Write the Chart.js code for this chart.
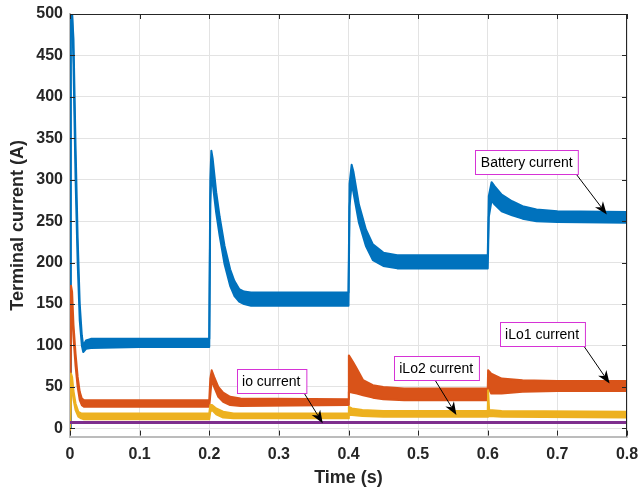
<!DOCTYPE html>
<html>
<head>
<meta charset="utf-8">
<script src="https://cdn.jsdelivr.net/npm/chart.js@4.4.0/dist/chart.umd.min.js"></script>
<style>
  html, body { margin: 0; padding: 0; background: #fff; }
</style>
</head>
<body>
<canvas id="grafica" width="641" height="491"></canvas>
<script>
// axis ticks
const xTicks = [0, 0.1, 0.2, 0.3, 0.4, 0.5, 0.6, 0.7, 0.8];
const yTicks = [0, 50, 100, 150, 200, 250, 300, 350, 400, 450, 500];

// battery current (ripple band: upper and lower edge)
const tBat = [0, 0.001, 0.003, 0.005, 0.008, 0.011, 0.014, 0.017, 0.019, 0.023, 0.03, 0.1, 0.2, 0.2015, 0.203, 0.205, 0.21, 0.215, 0.222, 0.23, 0.236, 0.243, 0.25, 0.26, 0.3, 0.4, 0.4015, 0.4045, 0.407, 0.415, 0.425, 0.435, 0.45, 0.47, 0.5, 0.6, 0.6015, 0.6055, 0.61, 0.62, 0.635, 0.65, 0.67, 0.7, 0.8];
const batHigh = [0, 500, 500, 470, 340, 230, 150, 112, 100, 106, 108, 108, 108, 300, 335, 325, 285, 255, 220, 192, 178, 168, 165, 164, 164, 164, 295, 318, 310, 270, 240, 222, 212, 209, 209, 209, 280, 297, 292, 282, 274, 268, 264, 262, 261];
const batLow = [0, 480, 500, 440, 300, 200, 130, 100, 92, 96, 97, 98, 98, 270, 305, 295, 260, 232, 198, 172, 160, 153, 150, 148, 148, 148, 268, 295, 285, 248, 220, 203, 196, 193, 193, 193, 255, 275, 270, 262, 257, 253, 250, 249, 248];

// iLo1 current
const tLo1 = [0, 0.0015, 0.003, 0.005, 0.008, 0.011, 0.014, 0.017, 0.02, 0.2, 0.2015, 0.2035, 0.207, 0.213, 0.22, 0.23, 0.245, 0.4, 0.4005, 0.4065, 0.412, 0.421, 0.435, 0.45, 0.48, 0.6, 0.6005, 0.605, 0.62, 0.65, 0.7, 0.8];
const lo1High = [0, 172, 165, 125, 90, 62, 44, 36, 34, 34, 60, 70, 62, 50, 43, 38, 36, 35, 88, 80, 72, 58, 52, 50, 48, 48, 70, 66, 60, 58, 57, 57];
const lo1Low = [0, 150, 140, 110, 75, 50, 34, 28, 26, 26, 40, 58, 50, 38, 32, 28, 27, 28, 44, 43, 42, 40, 37, 35, 34, 34, 50, 42, 42, 44, 45, 45];

// iLo2 current
const tLo2 = [0, 0.0015, 0.003, 0.005, 0.008, 0.012, 0.016, 0.02, 0.2, 0.2015, 0.204, 0.21, 0.22, 0.235, 0.4, 0.4005, 0.405, 0.42, 0.45, 0.6, 0.6005, 0.602, 0.62, 0.8];
const lo2High = [-6, 66, 62, 45, 30, 20, 18, 18, 18, 28, 28, 24, 20, 18, 18, 26, 24, 22, 21, 21, 46, 22, 21, 20];
const lo2Low = [-6, 50, 48, 35, 22, 14, 12, 11, 11, 20, 22, 17, 13, 12, 12, 16, 16, 15, 14, 14, 14, 15, 14, 13];

// io current
const tIo = [0, 0.8];
const ioVals = [7, 7];

// text arrows (data coordinates)
const noteText = ['Battery current', 'iLo1 current', 'iLo2 current', 'io current'];
const noteBoxX = [0.656, 0.678, 0.526, 0.289];
const noteBoxY = [321, 114, 73, 57];
const arrowFromX = [0.725, 0.735, 0.523, 0.333];
const arrowFromY = [309, 103, 60, 47];
const arrowToX = [0.771, 0.775, 0.555, 0.363];
const arrowToY = [258, 54, 16, 6];

const FONT = "'Liberation Sans', Arial, Helvetica, sans-serif";

function pts(ts, vs) {
    return ts.map((t, i) => ({ x: t, y: vs[i] }));
}

function band(ts, hi, lo, color, order) {
    const common = { borderColor: color, backgroundColor: color, borderWidth: 2, borderJoinStyle: 'round', order: order };
    return [
        { ...common, data: pts(ts, hi), fill: false },
        { ...common, data: pts(ts, lo), fill: '-1' }
    ];
}

const datasets = [
    ...band(tBat, batHigh, batLow, '#0072BD', 4),
    ...band(tLo1, lo1High, lo1Low, '#D95319', 3),
    ...band(tLo2, lo2High, lo2Low, '#EDB120', 2),
    { data: pts(tIo, ioVals), borderColor: '#7E2F8E', borderWidth: 3, fill: false, order: 1 }
];

// box ticks on all four sides, dark top/right lines
const axisBox = {
    id: 'axisBox',
    afterDatasetsDraw(chart) {
        const { ctx, chartArea: a, scales: { x, y } } = chart;
        ctx.save();
        ctx.strokeStyle = '#262626';
        ctx.lineWidth = 1;
        ctx.beginPath();
        ctx.moveTo(a.left, a.top + 0.5); ctx.lineTo(a.right, a.top + 0.5);
        ctx.moveTo(a.right - 0.5, a.top); ctx.lineTo(a.right - 0.5, a.bottom);
        xTicks.forEach(v => {
            const px = Math.round(x.getPixelForValue(v)) + 0.5;
            ctx.moveTo(px, a.bottom - 1); ctx.lineTo(px, a.bottom - 6);
            ctx.moveTo(px, a.top); ctx.lineTo(px, a.top + 5);
        });
        yTicks.forEach(v => {
            const py = Math.round(y.getPixelForValue(v)) + 0.5;
            ctx.moveTo(a.left, py); ctx.lineTo(a.left + 5, py);
            ctx.moveTo(a.right, py); ctx.lineTo(a.right - 5, py);
        });
        ctx.stroke();
        ctx.restore();
    }
};

// text boxes with arrows
const notes = {
    id: 'notes',
    afterDraw(chart) {
        const { ctx, scales: { x, y } } = chart;
        ctx.save();
        ctx.font = '14px ' + FONT;
        ctx.textAlign = 'center';
        ctx.textBaseline = 'middle';
        noteText.forEach((txt, i) => {
            // arrow
            const x0 = x.getPixelForValue(arrowFromX[i]), y0 = y.getPixelForValue(arrowFromY[i]);
            const x1 = x.getPixelForValue(arrowToX[i]), y1 = y.getPixelForValue(arrowToY[i]);
            const ang = Math.atan2(y1 - y0, x1 - x0);
            const len = 13, half = 5;
            const bx = x1 - len * Math.cos(ang), by = y1 - len * Math.sin(ang);
            const nx = x1 - len * 0.7 * Math.cos(ang), ny = y1 - len * 0.7 * Math.sin(ang);
            ctx.strokeStyle = '#000';
            ctx.lineWidth = 1;
            ctx.beginPath();
            ctx.moveTo(x0, y0);
            ctx.lineTo(nx, ny);
            ctx.stroke();
            ctx.fillStyle = '#000';
            ctx.beginPath();
            ctx.moveTo(x1, y1);
            ctx.lineTo(bx + half * Math.sin(ang), by - half * Math.cos(ang));
            ctx.lineTo(nx, ny);
            ctx.lineTo(bx - half * Math.sin(ang), by + half * Math.cos(ang));
            ctx.closePath();
            ctx.fill();

            // box
            const cx = x.getPixelForValue(noteBoxX[i]), cy = y.getPixelForValue(noteBoxY[i]);
            const w = ctx.measureText(txt).width + 11, h = 24;
            const lx = Math.round(cx - w / 2) + 0.5, ty = Math.round(cy - h / 2) + 0.5;
            ctx.fillStyle = '#fff';
            ctx.fillRect(lx, ty, w, h);
            ctx.strokeStyle = '#D633D6';
            ctx.strokeRect(lx, ty, w, h);
            ctx.fillStyle = '#000';
            ctx.fillText(txt, cx, cy + 1);
        });
        ctx.restore();
    }
};

const ctx1 = document.getElementById('grafica').getContext('2d');

new Chart(ctx1, {
    type: 'line',
    data: { datasets: datasets },
    options: {
        responsive: false,
        animation: false,
        devicePixelRatio: 1,
        layout: { padding: { left: 0, right: 14, top: 14, bottom: 0 } },
        elements: { point: { radius: 0 }, line: { tension: 0 } },
        plugins: { legend: { display: false }, tooltip: { enabled: false } },
        scales: {
            x: {
                type: 'linear',
                min: 0,
                max: 0.8,
                afterBuildTicks: s => { s.ticks = xTicks.map(v => ({ value: v })); },
                afterFit: s => { s.height = 54.4; s.paddingLeft = 0; s.paddingRight = 0; },
                grid: { color: '#e3e3e3', drawTicks: false },
                border: { color: '#bcbcbc', width: 2 },
                ticks: {
                    padding: 8,
                    color: '#262626',
                    font: { family: FONT, size: 16, weight: 'bold' },
                    callback: v => String(v)
                },
                title: {
                    display: true,
                    text: 'Time (s)',
                    color: '#262626',
                    font: { family: FONT, size: 18, weight: 'bold' },
                    padding: { top: 0, bottom: 2 }
                }
            },
            y: {
                min: -10,
                max: 500,
                afterBuildTicks: s => { s.ticks = yTicks.map(v => ({ value: v })); },
                afterFit: s => { s.width = 70; s.paddingTop = 0; s.paddingBottom = 0; },
                grid: { color: '#e3e3e3', drawTicks: false },
                border: { color: '#bcbcbc', width: 2 },
                ticks: {
                    padding: 7,
                    color: '#262626',
                    font: { family: FONT, size: 16, weight: 'bold' }
                },
                title: {
                    display: true,
                    text: 'Terminal current (A)',
                    color: '#262626',
                    font: { family: FONT, size: 18, weight: 'bold' },
                    padding: { top: 7, bottom: 0 }
                }
            }
        }
    },
    plugins: [axisBox, notes]
});
</script>
</body>
</html>
